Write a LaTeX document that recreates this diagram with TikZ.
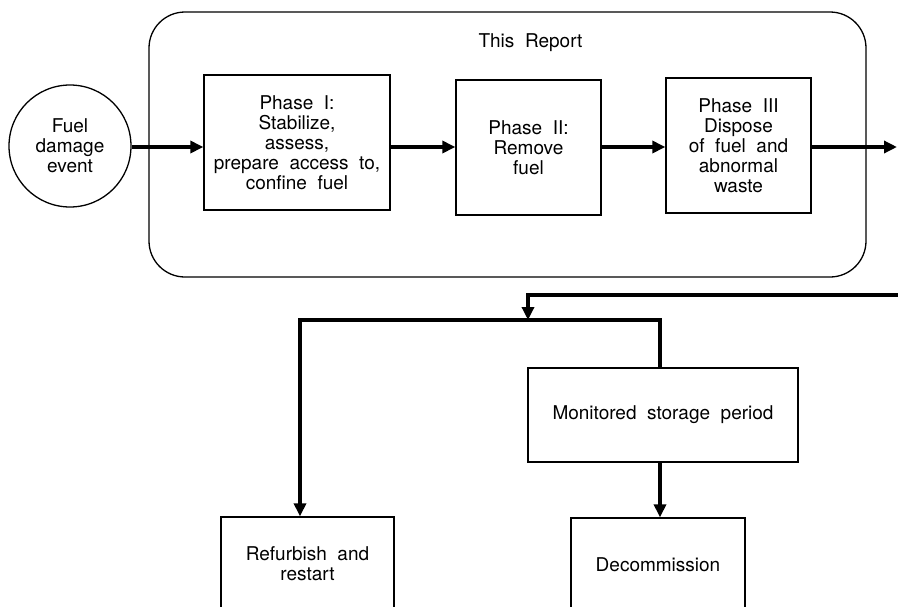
\documentclass[tikz,border=0pt]{standalone}
\usepackage{fontspec}
\setmainfont{TeX Gyre Heros}[WordSpace=2]
\usetikzlibrary{arrows.meta}
\begin{document}
\begin{tikzpicture}[x=1pt,y=-1pt,
  txt/.style={font=\fontsize{19}{20}\selectfont, align=center},
  box/.style={txt, draw, line width=1.3pt, inner sep=0pt},
  frame/.style={draw, line width=1.3pt, rounded corners=36pt, inner sep=0pt},
  flow/.style={line width=3.4pt, -{Triangle[length=13pt,width=12pt]}},
  link/.style={line width=3.4pt}]
\useasboundingbox (0,0) rectangle (898,606);
\clip (0,0) rectangle (898,606);

% frame "This Report"
\node[frame, minimum width=717pt, minimum height=265pt] (rep) at (507.5,144.5) {};
\node[txt] (title) at (530.5,43) {This Report};

\node[txt, draw, circle, line width=1.3pt, minimum size=122pt, inner sep=0pt] (fuel) at (70,146) {Fuel\\damage\\event};
\node[box, minimum width=186pt, minimum height=135pt] (p1) at (297,142.5)
  {Phase I:\\Stabilize,\\assess,\\prepare access to,\\confine fuel};
\node[box, minimum width=145pt, minimum height=135pt] (p2) at (528.5,147.5)
  {Phase II:\\Remove\\fuel};
\node[box, minimum width=145pt, minimum height=135pt] (p3) at (738.5,145.5)
  {Phase III\\Dispose\\of fuel and\\abnormal\\waste};

\node[box, minimum width=270pt, minimum height=94pt] (mon) at (663,415) {Monitored storage period};
\node[box, minimum width=173pt, minimum height=94pt] (ref) at (307.5,564) {Refurbish and\\restart};
\node[box, minimum width=174pt, minimum height=94pt] (dec) at (658,565) {Decommission};

\coordinate (row) at (0,147);
\coordinate (outA) at (897,147);
\coordinate (inB) at (898,295);
\coordinate (jn) at (528,320);
\coordinate (jl) at (300,320);
\coordinate (jr) at (660,320);

\draw[flow] (fuel.east |- row) -- (p1.west |- row);
\draw[flow] (p1.east |- row) -- (p2.west |- row);
\draw[flow] (p2.east |- row) -- (p3.west |- row);
\draw[flow] (p3.east |- row) -- (outA);

\draw[flow] (inB) -- (jn |- inB) -- (jn);
\draw[flow] (jr |- mon.north) -- (jr) -- (jl) -- (jl |- ref.north);
\draw[flow] (jr |- mon.south) -- (jr |- dec.north);
\end{tikzpicture}
\end{document}
